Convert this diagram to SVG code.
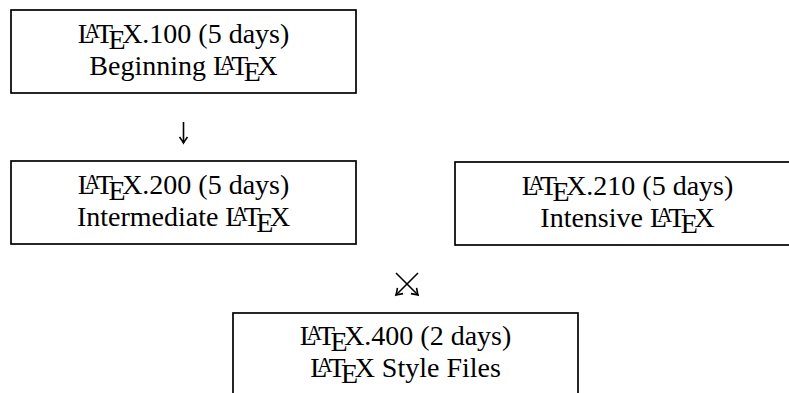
<svg xmlns="http://www.w3.org/2000/svg" width="789" height="393" viewBox="0 0 789 393">
<style>
.box{fill:none;stroke:#000;stroke-width:1.7}
.t{font-family:"Liberation Serif","Times New Roman",serif;font-size:28px;fill:#000;text-anchor:middle}
.a{font-size:21px}
.c{stroke:#000;stroke-width:1.6;fill:none}
</style>
<defs>
<marker id="ah" markerUnits="userSpaceOnUse" markerWidth="12" markerHeight="12" refX="0" refY="0" viewBox="-8 -6 10 12" orient="auto">
<path d="M-6,-4 Q-2,-1 0,0 Q-2,1 -6,4" fill="none" stroke="#000" stroke-width="1.6"/>
</marker>
</defs>
<rect width="789" height="393" fill="#fff"/>
<g id="connectors">
<line class="c" x1="183.5" y1="122" x2="183.5" y2="143" marker-end="url(#ah)"/>
<line class="c" x1="396" y1="273" x2="418" y2="295" marker-end="url(#ah)"/>
<line class="c" x1="418" y1="273" x2="396" y2="295" marker-end="url(#ah)"/>
</g>
<g id="latex100">
<rect class="box" x="11" y="10" width="345" height="83"/>
<text class="t" x="183.5" y="43">L<tspan class="a" dx="-10" dy="-5">A</tspan><tspan dx="-4" dy="5">T</tspan><tspan dx="-4.5" dy="6">E</tspan><tspan dx="-3.5" dy="-6">X.100 (5 days)</tspan></text>
<text class="t" x="183.5" y="75">Beginning L<tspan class="a" dx="-10" dy="-5">A</tspan><tspan dx="-4" dy="5">T</tspan><tspan dx="-4.5" dy="6">E</tspan><tspan dx="-3.5" dy="-6">X</tspan></text>
</g>
<g id="latex200">
<rect class="box" x="11" y="161" width="345" height="83"/>
<text class="t" x="183.5" y="194">L<tspan class="a" dx="-10" dy="-5">A</tspan><tspan dx="-4" dy="5">T</tspan><tspan dx="-4.5" dy="6">E</tspan><tspan dx="-3.5" dy="-6">X.200 (5 days)</tspan></text>
<text class="t" x="183.5" y="226">Intermediate L<tspan class="a" dx="-10" dy="-5">A</tspan><tspan dx="-4" dy="5">T</tspan><tspan dx="-4.5" dy="6">E</tspan><tspan dx="-3.5" dy="-6">X</tspan></text>
</g>
<g id="latex210">
<rect class="box" x="455" y="162" width="345" height="83"/>
<text class="t" x="627.5" y="195">L<tspan class="a" dx="-10" dy="-5">A</tspan><tspan dx="-4" dy="5">T</tspan><tspan dx="-4.5" dy="6">E</tspan><tspan dx="-3.5" dy="-6">X.210 (5 days)</tspan></text>
<text class="t" x="627.5" y="227">Intensive L<tspan class="a" dx="-10" dy="-5">A</tspan><tspan dx="-4" dy="5">T</tspan><tspan dx="-4.5" dy="6">E</tspan><tspan dx="-3.5" dy="-6">X</tspan></text>
</g>
<g id="latex400">
<rect class="box" x="233" y="313" width="345" height="83"/>
<text class="t" x="405.5" y="345">L<tspan class="a" dx="-10" dy="-5">A</tspan><tspan dx="-4" dy="5">T</tspan><tspan dx="-4.5" dy="6">E</tspan><tspan dx="-3.5" dy="-6">X.400 (2 days)</tspan></text>
<text class="t" x="405.5" y="377">L<tspan class="a" dx="-10" dy="-5">A</tspan><tspan dx="-4" dy="5">T</tspan><tspan dx="-4.5" dy="6">E</tspan><tspan dx="-3.5" dy="-6">X Style Files</tspan></text>
</g>
</svg>
